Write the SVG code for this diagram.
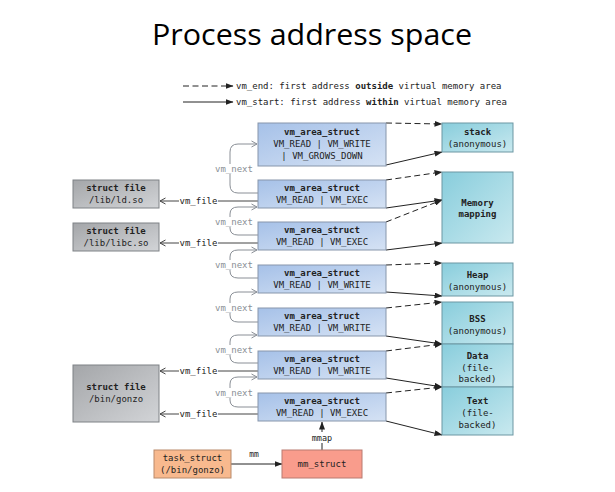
<svg xmlns="http://www.w3.org/2000/svg" width="615" height="492" viewBox="0 0 615 492">
<defs>
<linearGradient id="gBlue" x1="0" y1="0" x2="1" y2="1"><stop offset="0" stop-color="#a6c1e8"/><stop offset="1" stop-color="#d5e2f4"/></linearGradient>
<linearGradient id="gTeal" x1="0" y1="0" x2="1" y2="1"><stop offset="0" stop-color="#88cddc"/><stop offset="1" stop-color="#c9e9ef"/></linearGradient>
<linearGradient id="gGrey" x1="0" y1="0" x2="1" y2="1"><stop offset="0" stop-color="#a4a6a9"/><stop offset="1" stop-color="#d2d4d7"/></linearGradient>
<marker id="ah" markerUnits="userSpaceOnUse" markerWidth="8" markerHeight="6" refX="7.5" refY="3" orient="auto"><path d="M0,0 L8,3 L0,6 z" fill="#222"/></marker>
<marker id="oh" markerUnits="userSpaceOnUse" markerWidth="8" markerHeight="8" refX="6.5" refY="4" orient="auto"><path d="M1,1 L6.5,4 L1,7" fill="none" stroke="#444" stroke-width="1"/></marker>
<marker id="gh" markerUnits="userSpaceOnUse" markerWidth="8" markerHeight="8" refX="6.5" refY="4" orient="auto"><path d="M1,1 L6.5,4 L1,7" fill="none" stroke="#8a8f96" stroke-width="1"/></marker>
</defs>
<style>
text{font-family:"DejaVu Sans Mono","Liberation Mono",monospace;font-size:9px;fill:#222;text-anchor:middle}
.b{font-weight:bold}
.vma{fill:url(#gBlue);stroke:#8796ab;stroke-width:1}
.reg{fill:url(#gTeal);stroke:#6c97a3;stroke-width:1}
.file{fill:url(#gGrey);stroke:#7e8286;stroke-width:1}
.solid{stroke:#222;stroke-width:1;fill:none;marker-end:url(#ah)}
.dash{stroke:#222;stroke-width:1;fill:none;stroke-dasharray:6,3.5;marker-end:url(#ah)}
.next{stroke:#8a8f96;stroke-width:1;fill:none;marker-end:url(#gh)}
.nl{fill:#8a8f96}
.vf{stroke:#444;stroke-width:1;fill:none;marker-end:url(#oh)}
.bg{fill:#fff}
</style>
<rect width="615" height="492" fill="#fff"/>
<text x="312" y="45" style="font-family:'Open Sans','Liberation Sans',sans-serif;font-size:30px;fill:#000" textLength="320" lengthAdjust="spacingAndGlyphs">Process address space</text>

<g id="legend">
<line x1="183" y1="86" x2="233" y2="86" class="dash"/>
<text x="236" y="89" style="text-anchor:start">vm_end: first address <tspan class="b">outside</tspan> virtual memory area</text>
<line x1="183" y1="102" x2="233" y2="102" class="solid"/>
<text x="236" y="105" style="text-anchor:start">vm_start: first address <tspan class="b">within</tspan> virtual memory area</text>
</g>

<g id="connectors">
<!-- vma to region -->
<line x1="386" y1="123" x2="442" y2="124" class="dash"/>
<line x1="386" y1="165" x2="442" y2="152" class="solid"/>
<line x1="386" y1="180" x2="442" y2="172" class="dash"/>
<line x1="386" y1="208" x2="442" y2="200" class="solid"/>
<line x1="386" y1="222" x2="442" y2="200" class="dash"/>
<line x1="386" y1="250" x2="442" y2="243" class="solid"/>
<line x1="386" y1="265" x2="442" y2="263" class="dash"/>
<line x1="386" y1="292" x2="442" y2="296" class="solid"/>
<line x1="386" y1="308" x2="442" y2="302" class="dash"/>
<line x1="386" y1="336" x2="442" y2="344" class="solid"/>
<line x1="386" y1="351" x2="442" y2="344" class="dash"/>
<line x1="386" y1="378" x2="442" y2="387" class="solid"/>
<line x1="386" y1="393" x2="442" y2="387" class="dash"/>
<line x1="386" y1="421" x2="442" y2="435" class="solid"/>
<!-- vm_next -->
<path class="next" d="M258,193 H238 Q230,193 230,185 V152 Q230,144 238,144 H257"/>
<rect class="bg" x="215" y="164" width="38" height="10"/><text class="nl" x="234" y="172">vm_next</text>
<path class="next" d="M258,235 H238 Q230,235 230,228 V214 Q230,207 238,207 H257"/>
<rect class="bg" x="215" y="217" width="38" height="10"/><text class="nl" x="234" y="225">vm_next</text>
<path class="next" d="M258,278 H238 Q230,278 230,271 V257 Q230,250 238,250 H257"/>
<rect class="bg" x="215" y="260" width="38" height="10"/><text class="nl" x="234" y="268">vm_next</text>
<path class="next" d="M258,322 H238 Q230,322 230,315 V299 Q230,292 238,292 H257"/>
<rect class="bg" x="215" y="303" width="38" height="10"/><text class="nl" x="234" y="311">vm_next</text>
<path class="next" d="M258,363 H238 Q230,363 230,356 V342 Q230,335 238,335 H257"/>
<rect class="bg" x="215" y="345" width="38" height="10"/><text class="nl" x="234" y="353">vm_next</text>
<path class="next" d="M258,407 H238 Q230,407 230,400 V384 Q230,377 238,377 H257"/>
<rect class="bg" x="215" y="388" width="38" height="10"/><text class="nl" x="234" y="396">vm_next</text>
<!-- vm_file -->
<line class="vf" x1="258" y1="201" x2="160" y2="201"/>
<rect class="bg" x="179" y="196" width="39" height="10"/><text x="198.5" y="204">vm_file</text>
<line class="vf" x1="258" y1="243" x2="160" y2="243"/>
<rect class="bg" x="179" y="238" width="39" height="10"/><text x="198.5" y="246">vm_file</text>
<line class="vf" x1="258" y1="371" x2="160" y2="371"/>
<rect class="bg" x="179" y="366" width="39" height="10"/><text x="198.5" y="374">vm_file</text>
<line class="vf" x1="258" y1="414" x2="160" y2="414"/>
<rect class="bg" x="179" y="409" width="39" height="10"/><text x="198.5" y="417">vm_file</text>
<!-- mm / mmap -->
<line class="solid" x1="231" y1="464" x2="282" y2="464"/>
<text x="254" y="457" style="font-size:8px">mm</text>
<line class="solid" x1="322" y1="450" x2="322" y2="422"/>
<rect class="bg" x="310" y="432" width="24" height="11"/><text x="322" y="441" style="font-size:8.5px">mmap</text>
</g>

<g id="vma1"><rect class="vma" x="258" y="123" width="128" height="43"/><text class="b" x="322" y="135">vm_area_struct</text><text x="322" y="147">VM_READ | VM_WRITE</text><text x="322" y="159">| VM_GROWS_DOWN</text></g>
<g id="vma2"><rect class="vma" x="258" y="180" width="128" height="28"/><text class="b" x="322" y="191">vm_area_struct</text><text x="322" y="203">VM_READ | VM_EXEC</text></g>
<g id="vma3"><rect class="vma" x="258" y="222" width="128" height="28"/><text class="b" x="322" y="233">vm_area_struct</text><text x="322" y="245">VM_READ | VM_EXEC</text></g>
<g id="vma4"><rect class="vma" x="258" y="265" width="128" height="28"/><text class="b" x="322" y="276">vm_area_struct</text><text x="322" y="288">VM_READ | VM_WRITE</text></g>
<g id="vma5"><rect class="vma" x="258" y="308" width="128" height="28"/><text class="b" x="322" y="319">vm_area_struct</text><text x="322" y="331">VM_READ | VM_WRITE</text></g>
<g id="vma6"><rect class="vma" x="258" y="351" width="128" height="28"/><text class="b" x="322" y="362">vm_area_struct</text><text x="322" y="374">VM_READ | VM_WRITE</text></g>
<g id="vma7"><rect class="vma" x="258" y="393" width="128" height="28"/><text class="b" x="322" y="404">vm_area_struct</text><text x="322" y="416">VM_READ | VM_EXEC</text></g>

<g id="stack"><rect class="reg" x="442" y="123" width="71" height="29"/><text class="b" x="477.5" y="135">stack</text><text x="477.5" y="147">(anonymous)</text></g>
<g id="mmapping"><rect class="reg" x="442" y="172" width="71" height="71"/><text class="b" x="477.5" y="206">Memory</text><text class="b" x="477.5" y="217">mapping</text></g>
<g id="heap"><rect class="reg" x="442" y="263" width="71" height="33"/><text class="b" x="477.5" y="278">Heap</text><text x="477.5" y="290">(anonymous)</text></g>
<g id="bss"><rect class="reg" x="442" y="302" width="71" height="42"/><text class="b" x="477.5" y="322">BSS</text><text x="477.5" y="334">(anonymous)</text></g>
<g id="data"><rect class="reg" x="442" y="344" width="71" height="43"/><text class="b" x="477.5" y="359">Data</text><text x="477.5" y="371">(file-</text><text x="477.5" y="382">backed)</text></g>
<g id="textseg"><rect class="reg" x="442" y="387" width="71" height="48"/><text class="b" x="477.5" y="404">Text</text><text x="477.5" y="416">(file-</text><text x="477.5" y="428">backed)</text></g>

<g id="file-ld"><rect class="file" x="73" y="180" width="86" height="28"/><text class="b" x="116" y="191">struct file</text><text x="116" y="203">/lib/ld.so</text></g>
<g id="file-libc"><rect class="file" x="73" y="223" width="86" height="28"/><text class="b" x="116" y="234">struct file</text><text x="116" y="246">/lib/libc.so</text></g>
<g id="file-gonzo"><rect class="file" x="73" y="365" width="86" height="57"/><text class="b" x="116" y="390">struct file</text><text x="116" y="402">/bin/gonzo</text></g>

<g id="task"><rect x="154" y="450" width="77" height="28" fill="#f8b98e" stroke="#b98a6a"/><text x="192.5" y="461">task_struct</text><text x="192.5" y="473">(/bin/gonzo)</text></g>
<g id="mm"><rect x="282" y="450" width="80" height="28" fill="#f99c8c" stroke="#b97a70"/><text x="322" y="467">mm_struct</text></g>
</svg>
